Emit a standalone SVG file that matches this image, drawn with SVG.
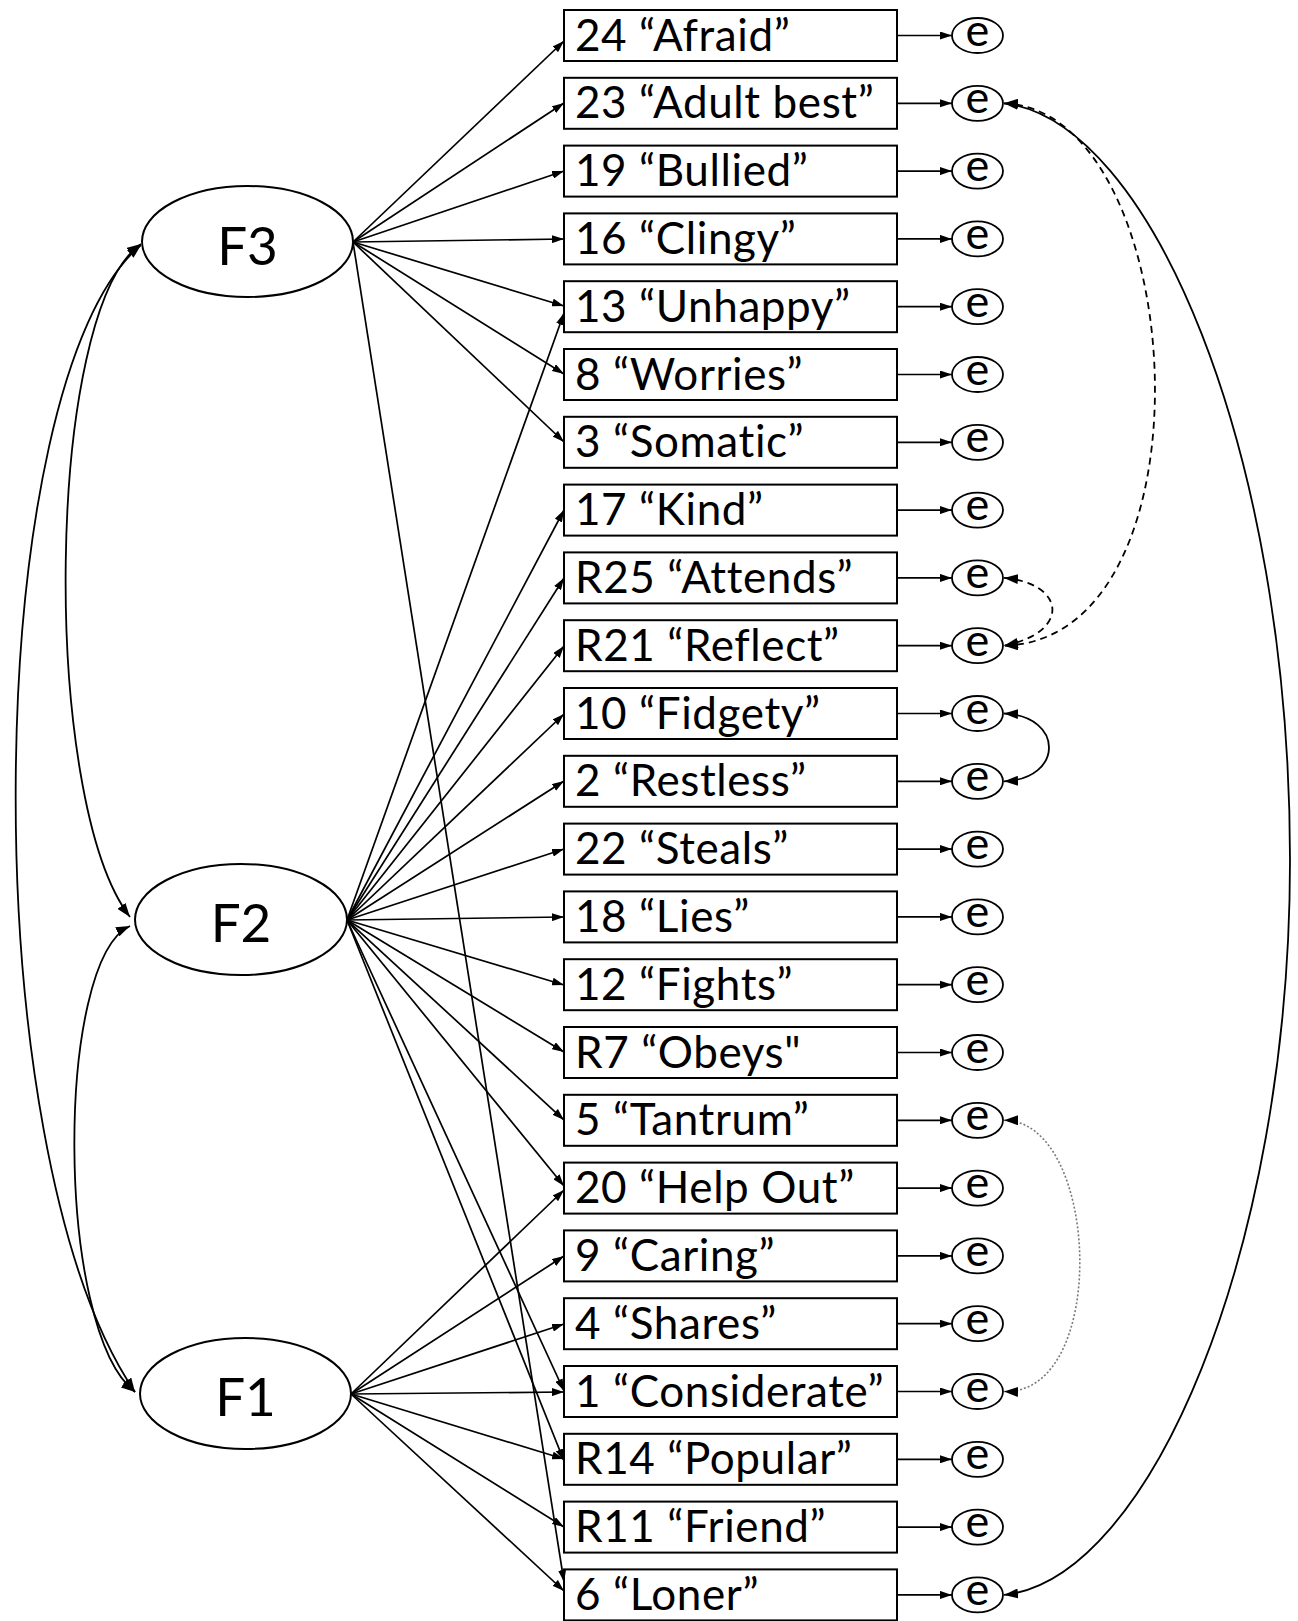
<svg xmlns="http://www.w3.org/2000/svg" width="1298" height="1621" viewBox="0 0 1298 1621">
<style>
.bg{fill:#fff}
.box{fill:#fff;stroke:#000;stroke-width:2}
.lbl{font-family:Lato,"Liberation Sans",sans-serif;font-size:44px;letter-spacing:0.6px;fill:#000;font-variant-ligatures:none;font-feature-settings:"liga" 0}
.err{fill:#fff;stroke:#000;stroke-width:1.8}
.etx{font-family:Lato,"Liberation Sans",sans-serif;font-size:45px;fill:#000;text-anchor:middle}
.lat{fill:#fff;stroke:#000;stroke-width:2}
.ftx{font-family:Lato,"Liberation Sans",sans-serif;font-size:53px;fill:#000;text-anchor:middle}
.ld{fill:none;stroke:#000;stroke-width:1.7;marker-end:url(#ah)}
.cov{fill:none;stroke:#000;stroke-width:1.8;marker-start:url(#ahL);marker-end:url(#ahL)}
.dash{stroke-dasharray:7 5}
.dot{stroke:#7a7a7a;stroke-dasharray:2 2;stroke-width:1.6}
</style>
<defs>
<marker id="ah" viewBox="0 0 12 8" refX="12" refY="4" markerWidth="12" markerHeight="8" markerUnits="userSpaceOnUse" orient="auto-start-reverse"><path d="M0,0 L12,4 L0,8 Z" fill="#000"/></marker>
<marker id="ahL" viewBox="0 0 14 10" refX="14" refY="5" markerWidth="14" markerHeight="10" markerUnits="userSpaceOnUse" orient="auto-start-reverse"><path d="M0,0 L14,5 L0,10 Z" fill="#000"/></marker>
</defs>
<rect class="bg" x="0" y="0" width="1298" height="1621"/>

<g id="F3"><ellipse class="lat" cx="247.5" cy="241.5" rx="105.5" ry="55.5"/><text class="ftx" x="247.5" y="265">F3</text></g>
<g id="F2"><ellipse class="lat" cx="241" cy="919.5" rx="106" ry="55.5"/><text class="ftx" x="241" y="942">F2</text></g>
<g id="F1"><ellipse class="lat" cx="245.5" cy="1393.5" rx="105.5" ry="55.5"/><text class="ftx" x="245.5" y="1416">F1</text></g>

<g id="i24"><rect class="box" x="564" y="10" width="333" height="51"/><text class="lbl" x="575" y="50.5">24 “Afraid”</text></g>
<g id="i23"><rect class="box" x="564" y="77.8" width="333" height="51"/><text class="lbl" x="575" y="118.3">23 “Adult best”</text></g>
<g id="i19"><rect class="box" x="564" y="145.6" width="333" height="51"/><text class="lbl" x="575" y="186.1">19 “Bullied”</text></g>
<g id="i16"><rect class="box" x="564" y="213.4" width="333" height="51"/><text class="lbl" x="575" y="253.9">16 “Clingy”</text></g>
<g id="i13"><rect class="box" x="564" y="281.2" width="333" height="51"/><text class="lbl" x="575" y="321.7">13 “Unhappy”</text></g>
<g id="i8"><rect class="box" x="564" y="349" width="333" height="51"/><text class="lbl" x="575" y="389.5">8 “Worries”</text></g>
<g id="i3"><rect class="box" x="564" y="416.8" width="333" height="51"/><text class="lbl" x="575" y="457.3">3 “Somatic”</text></g>
<g id="i17"><rect class="box" x="564" y="484.6" width="333" height="51"/><text class="lbl" x="575" y="525.1">17 “Kind”</text></g>
<g id="iR25"><rect class="box" x="564" y="552.4" width="333" height="51"/><text class="lbl" x="575" y="592.9">R25 “Attends”</text></g>
<g id="iR21"><rect class="box" x="564" y="620.2" width="333" height="51"/><text class="lbl" x="575" y="660.7">R21 “Reflect”</text></g>
<g id="i10"><rect class="box" x="564" y="688" width="333" height="51"/><text class="lbl" x="575" y="728.5">10 “Fidgety”</text></g>
<g id="i2"><rect class="box" x="564" y="755.8" width="333" height="51"/><text class="lbl" x="575" y="796.3">2 “Restless”</text></g>
<g id="i22"><rect class="box" x="564" y="823.6" width="333" height="51"/><text class="lbl" x="575" y="864.1">22 “Steals”</text></g>
<g id="i18"><rect class="box" x="564" y="891.4" width="333" height="51"/><text class="lbl" x="575" y="931.9">18 “Lies”</text></g>
<g id="i12"><rect class="box" x="564" y="959.2" width="333" height="51"/><text class="lbl" x="575" y="999.7">12 “Fights”</text></g>
<g id="iR7"><rect class="box" x="564" y="1027" width="333" height="51"/><text class="lbl" x="575" y="1067.5">R7 “Obeys"</text></g>
<g id="i5"><rect class="box" x="564" y="1094.8" width="333" height="51"/><text class="lbl" x="575" y="1135.3">5 “Tantrum”</text></g>
<g id="i20"><rect class="box" x="564" y="1162.6" width="333" height="51"/><text class="lbl" x="575" y="1203.1">20 “Help Out”</text></g>
<g id="i9"><rect class="box" x="564" y="1230.4" width="333" height="51"/><text class="lbl" x="575" y="1270.9">9 “Caring”</text></g>
<g id="i4"><rect class="box" x="564" y="1298.2" width="333" height="51"/><text class="lbl" x="575" y="1338.7">4 “Shares”</text></g>
<g id="i1"><rect class="box" x="564" y="1366" width="333" height="51"/><text class="lbl" x="575" y="1406.5">1 “Considerate”</text></g>
<g id="iR14"><rect class="box" x="564" y="1433.8" width="333" height="51"/><text class="lbl" x="575" y="1474.3">R14 “Popular”</text></g>
<g id="iR11"><rect class="box" x="564" y="1501.6" width="333" height="51"/><text class="lbl" x="575" y="1542.1">R11 “Friend”</text></g>
<g id="i6"><rect class="box" x="564" y="1569.4" width="333" height="51"/><text class="lbl" x="575" y="1609.9">6 “Loner”</text></g>

<g id="e24"><ellipse class="err" cx="977.5" cy="35.5" rx="25.5" ry="17.5"/><text class="etx" x="977.5" y="45.5">e</text></g>
<g id="e23"><ellipse class="err" cx="977.5" cy="103.3" rx="25.5" ry="17.5"/><text class="etx" x="977.5" y="113.3">e</text></g>
<g id="e19"><ellipse class="err" cx="977.5" cy="171.1" rx="25.5" ry="17.5"/><text class="etx" x="977.5" y="181.1">e</text></g>
<g id="e16"><ellipse class="err" cx="977.5" cy="238.9" rx="25.5" ry="17.5"/><text class="etx" x="977.5" y="248.9">e</text></g>
<g id="e13"><ellipse class="err" cx="977.5" cy="306.7" rx="25.5" ry="17.5"/><text class="etx" x="977.5" y="316.7">e</text></g>
<g id="e8"><ellipse class="err" cx="977.5" cy="374.5" rx="25.5" ry="17.5"/><text class="etx" x="977.5" y="384.5">e</text></g>
<g id="e3"><ellipse class="err" cx="977.5" cy="442.3" rx="25.5" ry="17.5"/><text class="etx" x="977.5" y="452.3">e</text></g>
<g id="e17"><ellipse class="err" cx="977.5" cy="510.1" rx="25.5" ry="17.5"/><text class="etx" x="977.5" y="520.1">e</text></g>
<g id="eR25"><ellipse class="err" cx="977.5" cy="577.9" rx="25.5" ry="17.5"/><text class="etx" x="977.5" y="587.9">e</text></g>
<g id="eR21"><ellipse class="err" cx="977.5" cy="645.7" rx="25.5" ry="17.5"/><text class="etx" x="977.5" y="655.7">e</text></g>
<g id="e10"><ellipse class="err" cx="977.5" cy="713.5" rx="25.5" ry="17.5"/><text class="etx" x="977.5" y="723.5">e</text></g>
<g id="e2"><ellipse class="err" cx="977.5" cy="781.3" rx="25.5" ry="17.5"/><text class="etx" x="977.5" y="791.3">e</text></g>
<g id="e22"><ellipse class="err" cx="977.5" cy="849.1" rx="25.5" ry="17.5"/><text class="etx" x="977.5" y="859.1">e</text></g>
<g id="e18"><ellipse class="err" cx="977.5" cy="916.9" rx="25.5" ry="17.5"/><text class="etx" x="977.5" y="926.9">e</text></g>
<g id="e12"><ellipse class="err" cx="977.5" cy="984.7" rx="25.5" ry="17.5"/><text class="etx" x="977.5" y="994.7">e</text></g>
<g id="eR7"><ellipse class="err" cx="977.5" cy="1052.5" rx="25.5" ry="17.5"/><text class="etx" x="977.5" y="1062.5">e</text></g>
<g id="e5"><ellipse class="err" cx="977.5" cy="1120.3" rx="25.5" ry="17.5"/><text class="etx" x="977.5" y="1130.3">e</text></g>
<g id="e20"><ellipse class="err" cx="977.5" cy="1188.1" rx="25.5" ry="17.5"/><text class="etx" x="977.5" y="1198.1">e</text></g>
<g id="e9"><ellipse class="err" cx="977.5" cy="1255.9" rx="25.5" ry="17.5"/><text class="etx" x="977.5" y="1265.9">e</text></g>
<g id="e4"><ellipse class="err" cx="977.5" cy="1323.7" rx="25.5" ry="17.5"/><text class="etx" x="977.5" y="1333.7">e</text></g>
<g id="e1"><ellipse class="err" cx="977.5" cy="1391.5" rx="25.5" ry="17.5"/><text class="etx" x="977.5" y="1401.5">e</text></g>
<g id="eR14"><ellipse class="err" cx="977.5" cy="1459.3" rx="25.5" ry="17.5"/><text class="etx" x="977.5" y="1469.3">e</text></g>
<g id="eR11"><ellipse class="err" cx="977.5" cy="1527.1" rx="25.5" ry="17.5"/><text class="etx" x="977.5" y="1537.1">e</text></g>
<g id="e6"><ellipse class="err" cx="977.5" cy="1594.9" rx="25.5" ry="17.5"/><text class="etx" x="977.5" y="1604.9">e</text></g>

<g id="connectors">
<path class="ld" d="M353,242 L564,41"/>
<path class="ld" d="M353,242 L564,103"/>
<path class="ld" d="M353,242 L564,171"/>
<path class="ld" d="M353,242 L564,239"/>
<path class="ld" d="M353,242 L564,306"/>
<path class="ld" d="M353,242 L564,374"/>
<path class="ld" d="M353,242 L564,442"/>
<path class="ld" d="M353,242 L564,1582"/>
<path class="ld" d="M347,920 L564,313"/>
<path class="ld" d="M347,920 L564,510"/>
<path class="ld" d="M347,920 L564,578"/>
<path class="ld" d="M347,920 L564,646"/>
<path class="ld" d="M347,920 L564,714"/>
<path class="ld" d="M347,920 L564,781"/>
<path class="ld" d="M347,920 L564,849"/>
<path class="ld" d="M347,920 L564,917"/>
<path class="ld" d="M347,920 L564,985"/>
<path class="ld" d="M347,920 L564,1052"/>
<path class="ld" d="M347,920 L564,1120"/>
<path class="ld" d="M347,920 L564,1186"/>
<path class="ld" d="M347,920 L564,1391"/>
<path class="ld" d="M347,920 L564,1461"/>
<path class="ld" d="M351,1394 L564,1190"/>
<path class="ld" d="M351,1394 L564,1256"/>
<path class="ld" d="M351,1394 L564,1324"/>
<path class="ld" d="M351,1394 L564,1392"/>
<path class="ld" d="M351,1394 L564,1459"/>
<path class="ld" d="M351,1394 L564,1527"/>
<path class="ld" d="M351,1394 L564,1591"/>
<path class="ld" d="M897,35.5 H952"/>
<path class="ld" d="M897,103.3 H952"/>
<path class="ld" d="M897,171.1 H952"/>
<path class="ld" d="M897,238.9 H952"/>
<path class="ld" d="M897,306.7 H952"/>
<path class="ld" d="M897,374.5 H952"/>
<path class="ld" d="M897,442.3 H952"/>
<path class="ld" d="M897,510.1 H952"/>
<path class="ld" d="M897,577.9 H952"/>
<path class="ld" d="M897,645.7 H952"/>
<path class="ld" d="M897,713.5 H952"/>
<path class="ld" d="M897,781.3 H952"/>
<path class="ld" d="M897,849.1 H952"/>
<path class="ld" d="M897,916.9 H952"/>
<path class="ld" d="M897,984.7 H952"/>
<path class="ld" d="M897,1052.5 H952"/>
<path class="ld" d="M897,1120.3 H952"/>
<path class="ld" d="M897,1188.1 H952"/>
<path class="ld" d="M897,1255.9 H952"/>
<path class="ld" d="M897,1323.7 H952"/>
<path class="ld" d="M897,1391.5 H952"/>
<path class="ld" d="M897,1459.3 H952"/>
<path class="ld" d="M897,1527.1 H952"/>
<path class="ld" d="M897,1594.9 H952"/>
<path class="cov" d="M141,244 C45,310 40,800 130,917"/>
<path class="cov" d="M141,245 C-20,380 -30,1150 135,1392"/>
<path class="cov" d="M130,926 C55,960 55,1330 135,1392"/>
<path class="cov" d="M1004,103.3 C1150,120 1290,450 1290,860 C1290,1250 1150,1580 1004,1594.9"/>
<path class="cov dash" d="M1004,103.3 C1190,110 1220,640 1004,645.7"/>
<path class="cov dash" d="M1004,577.9 C1065,583 1072,632 1004,645.7"/>
<path class="cov" d="M1004,713.5 C1064,716 1064,779 1004,781.3"/>
<path class="cov dot" d="M1004,1120.3 C1100,1120 1110,1395 1004,1391.5"/>
</g>
</svg>
